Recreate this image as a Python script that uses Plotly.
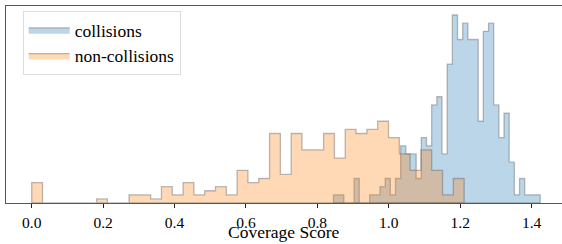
import numpy as np
import plotly.graph_objects as go

# ---- data ----
# non-collisions: 40 bins spanning 0.0 .. 1.211
noncoll_range = (0.0, 1.211)
noncoll_counts = [5, 0, 0, 0, 0, 0, 1, 0, 0, 2,
                  2, 1, 4, 2, 5, 2, 3, 4, 2, 8,
                  5, 6, 17, 7, 17, 13, 13, 17, 11, 18,
                  17, 18, 20, 16, 12, 8, 13, 8, 2, 6]
# collisions: 40 bins spanning 0.845 .. 1.424
coll_range = (0.845, 1.424)
coll_counts = [2, 2, 0, 0, 6, 0, 0, 2, 2, 4,
               6, 2, 6, 14, 12, 12, 6, 16, 14, 24,
               26, 12, 34, 46, 40, 44, 40, 40, 20, 42,
               44, 24, 16, 22, 10, 2, 6, 2, 2, 2]
series_names = ["collisions", "non-collisions"]
tick_vals = [0.0, 0.2, 0.4, 0.6, 0.8, 1.0, 1.2, 1.4]
tick_text = ["0.0", "0.2", "0.4", "0.6", "0.8", "1.0", "1.2", "1.4"]
x_title = "Coverage Score"


def step_outline(lo, hi, counts):
    edges = np.linspace(lo, hi, len(counts) + 1)
    xs, ys = [edges[0]], [0]
    for i, c in enumerate(counts):
        xs += [edges[i], edges[i + 1]]
        ys += [c, c]
    xs += [edges[-1], edges[0]]
    ys += [0, 0]
    return xs, ys


FONT = "'Liberation Serif', 'DejaVu Serif', serif"
edge = "rgba(90,90,90,0.4)"

fig = go.Figure()
cx, cy = step_outline(*coll_range, coll_counts)
fig.add_trace(go.Scatter(x=cx, y=cy, mode="lines", fill="toself",
                         fillcolor="rgba(31,119,180,0.3)",
                         line=dict(color=edge, width=1.3),
                         name=series_names[0]))
nx, ny = step_outline(*noncoll_range, noncoll_counts)
fig.add_trace(go.Scatter(x=nx, y=ny, mode="lines", fill="toself",
                         fillcolor="rgba(255,127,14,0.3)",
                         line=dict(color=edge, width=1.3),
                         name=series_names[1]))

fig.update_layout(
    width=562, height=244,
    margin=dict(l=6, r=0, t=6, b=41, autoexpand=False),
    paper_bgcolor="white", plot_bgcolor="white",
    font=dict(family=FONT, color="black"),
    showlegend=True,
    legend=dict(x=0.03, y=0.975, xanchor="left", yanchor="top",
                bgcolor="white", bordercolor="#dddddd", borderwidth=1,
                font=dict(size=17.5, family=FONT), itemwidth=41,
                tracegroupgap=0),
    xaxis=dict(range=[-0.072, 1.485], tickvals=tick_vals, ticktext=tick_text,
               ticks="outside", ticklen=4, tickwidth=1, tickcolor="#222",
               ticklabelstandoff=1,
               showline=True, linecolor="#555", linewidth=1.2, mirror=True,
               showgrid=False, zeroline=False, automargin=False,
               tickfont=dict(size=15.5, family=FONT)),
    yaxis=dict(range=[0, 48.2], showticklabels=False, ticks="",
               showline=True, linecolor="#555", linewidth=1.2, mirror=False,
               showgrid=False, zeroline=False, automargin=False),
    annotations=[dict(text=x_title, xref="paper", yref="paper",
                      x=(284 - 6) / 556, y=-(232 - 203) / 197,
                      xanchor="center", yanchor="middle", showarrow=False,
                      borderpad=0,
                      font=dict(size=17.5, family=FONT, color="black"))],
)

fig.write_html("out.html", config={"displayModeBar": False})

# remove the browser's default page margin so the figure fills the window
with open("out.html", encoding="utf-8") as f:
    html = f.read()
html = html.replace("<head>", "<head><style>html,body{margin:0;padding:0;overflow:hidden;}</style>", 1)
with open("out.html", "w", encoding="utf-8") as f:
    f.write(html)
